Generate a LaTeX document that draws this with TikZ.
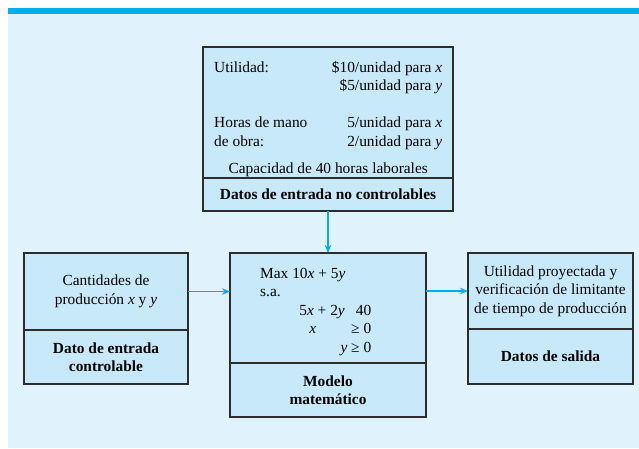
\documentclass[tikz,border=0pt]{standalone}
\usepackage{fontspec}
\setmainfont{Liberation Serif}
\usetikzlibrary{positioning,arrows.meta}

\definecolor{bandblue}{RGB}{0,174,239}
\definecolor{paleblue}{RGB}{224,242,252}
\definecolor{boxblue}{RGB}{199,233,249}
\definecolor{edgegray}{RGB}{45,45,45}

\newcommand{\boxfont}{\fontsize{15.4}{18.5}\selectfont}

\tikzset{
  part/.style={draw=edgegray, line width=1.3pt, fill=boxblue, outer sep=0pt,
    inner sep=2pt, align=center, font=\boxfont},
  partbold/.style={part, font=\boxfont\bfseries},
  feed/.style={draw=bandblue, line width=1.4pt, -{Stealth[length=8pt,width=6.5pt]}},
}

\begin{document}
\begin{tikzpicture}[x=1pt,y=-1pt]
\useasboundingbox (0,0) rectangle (639,448);
% page background
\fill[paleblue] (7.5,14) rectangle (639,448);
\fill[bandblue] (7.5,8) rectangle (639,14);

% uncontrollable inputs
\node[part, anchor=north west, minimum width=250pt, minimum height=131pt] (datos) at (203,47) {};
\node[partbold, below=0pt of datos, minimum width=250pt, minimum height=33pt] (datosnc)
  {Datos de entrada no controlables};
\node[anchor=north west, inner sep=0pt, font=\boxfont] (datostxt) at (214,59)
  {\begin{tabular*}{228pt}{@{}l@{\extracolsep{\fill}}r@{}}
   Utilidad: & \$10/unidad para \textit{x}\\
             & \$5/unidad para \textit{y}\\[18.5pt]
   Horas de mano & 5/unidad para \textit{x}\\
   de obra:      & 2/unidad para \textit{y}\\[8.5pt]
   \multicolumn{2}{c}{Capacidad de 40 horas laborales}
   \end{tabular*}};

% mathematical model
\node[part, anchor=north west, minimum width=196pt, minimum height=110pt] (modelo) at (230,253) {};
\node[partbold, below=0pt of modelo, minimum width=196pt, minimum height=54pt] (modelonm)
  {Modelo\\matemático};
\node[anchor=north west, inner sep=0pt, font=\boxfont] (modelotxt) at (260,265)
  {\begin{tabular}{@{}l@{}}
   Max 10\textit{x} + 5\textit{y}\\
   s.a.\\
   \hspace{39pt}\makebox[72pt][r]{5\textit{x} + 2\textit{y}\hspace{11pt}40}\\
   \hspace{39pt}\makebox[72pt][r]{\textit{x}\hspace{35pt}≥ 0}\\
   \hspace{39pt}\makebox[72pt][r]{\textit{y} ≥ 0}
   \end{tabular}};

% controllable input
\node[part, anchor=north west, minimum width=164pt, minimum height=77pt] (cant) at (24,253)
  {Cantidades de\\producción \textit{x} y \textit{y}};
\node[partbold, below=0pt of cant, minimum width=164pt, minimum height=54pt] (cantdc)
  {Dato de entrada\\controlable};

% output
\node[part, anchor=north west, minimum width=165pt, minimum height=76pt] (util) at (468,253)
  {Utilidad proyectada y\\verificación de limitante\\de tiempo de producción};
\node[partbold, below=0pt of util, minimum width=165pt, minimum height=55pt] (utilds)
  {Datos de salida};

\draw[feed] (datosnc.south) -- (modelo.north);
\draw[feed] (cant.east) -- (cant.east -| modelo.west);
\draw[feed] (modelo.east |- util.west) -- (util.west);
\end{tikzpicture}
\end{document}
